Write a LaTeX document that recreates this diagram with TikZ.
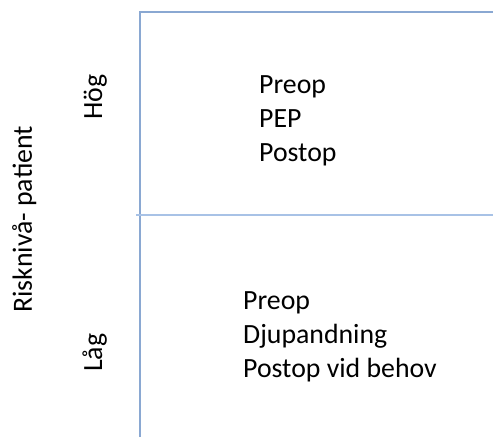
\documentclass[tikz,border=0pt]{standalone}
\usepackage{fontspec}
\setmainfont{Carlito}
\definecolor{axisblue}{HTML}{8AA8D2}
\definecolor{midblue}{HTML}{A8C2E6}
\begin{document}
\begin{tikzpicture}[x=1pt,y=1pt,
  axis/.style={draw=axisblue,line width=2pt},
  midline/.style={draw=midblue,line width=2pt},
  lbl/.style={font=\fontsize{27.8}{34}\selectfont,inner sep=0pt,align=left,anchor=base west},
  rot/.style={font=\fontsize{27.8}{34}\selectfont,inner sep=0pt,rotate=90,anchor=base west}]
\useasboundingbox (0,0) rectangle (493,437);
\coordinate (corner) at (139.5,425);
\coordinate (bottom) at (139.5,0);
\coordinate (topright) at (493,425);
\coordinate (midleft) at (136,222);
\coordinate (midright) at (493,222);
\draw[axis] (bottom) -- (corner) -- (topright);
\draw[midline] (midleft) -- (midright);
\node[lbl] (high) at (259,275) {Preop\\PEP\\Postop};
\node[lbl] (low) at (243,60) {Preop\\Djupandning\\Postop vid behov};
\node[rot] (hog) at (102,317) {Hög};
\node[rot] (lag) at (102,65) {Låg};
\node[rot] (risk) at (32,124) {Risknivå- patient};
\end{tikzpicture}
\end{document}
